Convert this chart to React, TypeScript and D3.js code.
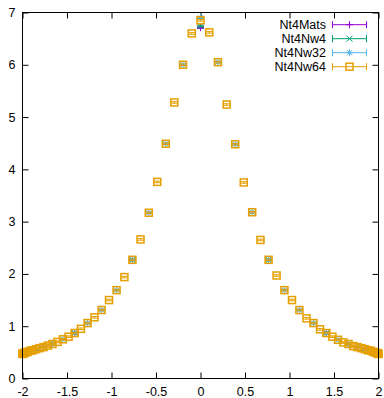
import React, { useRef, useEffect } from "react";
import * as d3 from "d3";

// x positions of the Nw64 grid
const xs64 = [
  -2.0, -1.998, -1.99, -1.978, -1.962, -1.94, -1.914, -1.883, -1.848, -1.808, -1.764,
  -1.716, -1.663, -1.606, -1.546, -1.482, -1.414, -1.343, -1.269, -1.191, -1.111,
  -1.028, -0.943, -0.855, -0.765, -0.674, -0.581, -0.486, -0.39, -0.294, -0.196, -0.098,
  0,
  0.098, 0.196, 0.294, 0.39, 0.486, 0.581, 0.674, 0.765, 0.855, 0.943, 1.028, 1.111,
  1.191, 1.269, 1.343, 1.414, 1.482, 1.546, 1.606, 1.663, 1.716, 1.764, 1.808, 1.848,
  1.883, 1.914, 1.94, 1.962, 1.978, 1.99, 1.998, 2.0,
];
const ys64 = [
  0.47, 0.475, 0.48, 0.49, 0.5, 0.51, 0.53, 0.54, 0.56, 0.58, 0.6,
  0.63, 0.66, 0.7, 0.75, 0.8, 0.87, 0.95, 1.06, 1.17, 1.31,
  1.5, 1.69, 1.94, 2.27, 2.66, 3.17, 3.76, 4.49, 5.28, 6.0, 6.6,
  6.85,
  6.62, 6.05, 5.24, 4.48, 3.75, 3.18, 2.65, 2.27, 1.97, 1.69, 1.5, 1.31,
  1.15, 1.06, 0.94, 0.87, 0.8, 0.74, 0.69, 0.66, 0.62, 0.6, 0.58, 0.56,
  0.54, 0.53, 0.51, 0.5, 0.49, 0.48, 0.475, 0.47,
];

const xs32 = [
  -2.0, -1.99, -1.962, -1.914, -1.848, -1.764, -1.663, -1.546, -1.414, -1.269, -1.111,
  -0.943, -0.765, -0.581, -0.39, -0.196, 0, 0.196, 0.39, 0.581, 0.765, 0.943, 1.111,
  1.269, 1.414, 1.546, 1.663, 1.764, 1.848, 1.914, 1.962, 1.99, 2.0,
];
const ys32 = [
  0.47, 0.48, 0.5, 0.53, 0.56, 0.6, 0.66, 0.75, 0.87, 1.06, 1.31,
  1.69, 2.27, 3.17, 4.49, 6.0, 6.9, 6.05, 4.48, 3.18, 2.27, 1.69, 1.31,
  1.06, 0.87, 0.74, 0.66, 0.6, 0.56, 0.53, 0.5, 0.48, 0.47,
];

const xs4 = [-2.0, -1.848, -1.414, -0.765, 0, 0.765, 1.414, 1.848, 2.0];
const ys4 = [0.47, 0.56, 0.87, 2.27, 6.74, 2.27, 0.87, 0.56, 0.47];

const xsMats = [-2.0, -1.848, -1.414, -0.765, 0, 0.765, 1.414, 1.848, 2.0];
const ysMats = [0.47, 0.56, 0.87, 2.27, 6.71, 2.27, 0.87, 0.56, 0.47];

const seriesNames = ["Nt4Mats", "Nt4Nw4", "Nt4Nw32", "Nt4Nw64"];
const seriesColors = ["#9400d3", "#009e73", "#56b4e9", "#e69f00"];
const xTicks = [-2, -1.5, -1, -0.5, 0, 0.5, 1, 1.5, 2];
const yTicks = [0, 1, 2, 3, 4, 5, 6, 7];
const ERR = 0.015;

const W = 384;
const H = 398;
const FONT = "'Liberation Sans', Arial, sans-serif";

type Pt = { x: number; y: number };

const App: React.FC = () => {
  const svgRef = useRef<SVGSVGElement | null>(null);

  useEffect(() => {
    const margin = { top: 12.5, right: 5.5, bottom: 19.5, left: 22.5 };
    const innerW = W - margin.left - margin.right;
    const innerH = H - margin.top - margin.bottom;

    const svg = d3.select(svgRef.current);
    svg.selectAll("*").remove();

    const g = svg.append("g").attr("transform", `translate(${margin.left},${margin.top})`);

    const x = d3.scaleLinear().domain([-2, 2]).range([0, innerW]);
    const y = d3.scaleLinear().domain([0, 7]).range([innerH, 0]);

    // axes (ticks inward, mirrored on top/right)
    const styleAxis = (sel: d3.Selection<SVGGElement, unknown, null, undefined>) => {
      sel.select(".domain").remove();
      sel.selectAll(".tick line").attr("stroke", "#000").attr("stroke-width", 1);
      sel.selectAll(".tick text").attr("fill", "#000").attr("font-family", FONT).attr("font-size", 12.5);
    };

    g.append("g")
      .attr("transform", `translate(0,${innerH})`)
      .call(d3.axisBottom(x).tickValues(xTicks).tickSize(-6).tickPadding(9).tickFormat((d) => String(d)))
      .call(styleAxis);
    g.append("g")
      .call(d3.axisLeft(y).tickValues(yTicks).tickSize(-6).tickPadding(7).tickFormat((d) => String(d)))
      .call(styleAxis);
    g.append("g")
      .call(d3.axisTop(x).tickValues(xTicks).tickSize(-6).tickFormat(() => ""))
      .call(styleAxis);
    g.append("g")
      .attr("transform", `translate(${innerW},0)`)
      .call(d3.axisRight(y).tickValues(yTicks).tickSize(-6).tickFormat(() => ""))
      .call(styleAxis);

    const toPts = (xs: number[], ys: number[]): Pt[] => xs.map((v, i) => ({ x: v, y: ys[i] }));
    const series = [toPts(xsMats, ysMats), toPts(xs4, ys4), toPts(xs32, ys32), toPts(xs64, ys64)];

    // marker drawing, gnuplot style point types 1..4
    const drawMarker = (
      sel: d3.Selection<SVGGElement, unknown, null, undefined>,
      k: number,
      cx: number,
      cy: number,
      color: string
    ) => {
      const s = 3.5;
      const line = (x1: number, y1: number, x2: number, y2: number) =>
        sel.append("line").attr("x1", x1).attr("y1", y1).attr("x2", x2).attr("y2", y2)
          .attr("stroke", color).attr("stroke-width", 1);
      if (k === 0 || k === 2) {
        line(cx - s, cy, cx + s, cy);
        line(cx, cy - s, cx, cy + s);
      }
      if (k === 1 || k === 2) {
        const d = k === 1 ? 3 : 2.6;
        line(cx - d, cy - d, cx + d, cy + d);
        line(cx - d, cy + d, cx + d, cy - d);
      }
      if (k === 3) {
        sel.append("rect").attr("x", cx - 3.5).attr("y", cy - 3.5).attr("width", 7).attr("height", 7)
          .attr("fill", "none").attr("stroke", color).attr("stroke-width", 1.5);
      }
    };

    series.forEach((pts, k) => {
      const color = seriesColors[k];
      const sg = g.append("g");
      pts.forEach((p) => {
        const cx = x(p.x);
        const cy = y(p.y);
        const y1 = y(p.y + ERR);
        const y2 = y(p.y - ERR);
        // vertical error bar with caps
        sg.append("line").attr("x1", cx).attr("x2", cx).attr("y1", y1).attr("y2", y2)
          .attr("stroke", color).attr("stroke-width", 1);
        [y1, y2].forEach((yy) =>
          sg.append("line").attr("x1", cx - 3.5).attr("x2", cx + 3.5).attr("y1", yy).attr("y2", yy)
            .attr("stroke", color).attr("stroke-width", 1)
        );
        drawMarker(sg, k, cx, cy, color);
      });
    });

    // frame
    g.append("rect").attr("width", innerW).attr("height", innerH)
      .attr("fill", "none").attr("stroke", "#000").attr("stroke-width", 1);

    // legend
    const lg = svg.append("g");
    seriesNames.forEach((name, k) => {
      const ly = 24.7 + k * 14;
      const color = seriesColors[k];
      lg.append("text").attr("x", 326).attr("y", ly + 4.5).attr("text-anchor", "end")
        .attr("font-family", FONT).attr("font-size", 12.5).attr("fill", "#000").text(name);
      const x1 = 332.5;
      const x2 = 366.5;
      const row = lg.append("g");
      row.append("line").attr("x1", x1).attr("x2", x2).attr("y1", ly).attr("y2", ly)
        .attr("stroke", color).attr("stroke-width", 1);
      [x1, x2].forEach((xx) =>
        row.append("line").attr("x1", xx).attr("x2", xx).attr("y1", ly - 3.5).attr("y2", ly + 3.5)
          .attr("stroke", color).attr("stroke-width", 1)
      );
      drawMarker(row, k, (x1 + x2) / 2, ly, color);
    });
  }, []);

  return (
    <svg
      ref={svgRef}
      width={W}
      height={H}
      viewBox={`0 0 ${W} ${H}`}
      style={{ position: "absolute", left: 0, top: 0, background: "#fff" }}
    ></svg>
  );
};

export default App;
